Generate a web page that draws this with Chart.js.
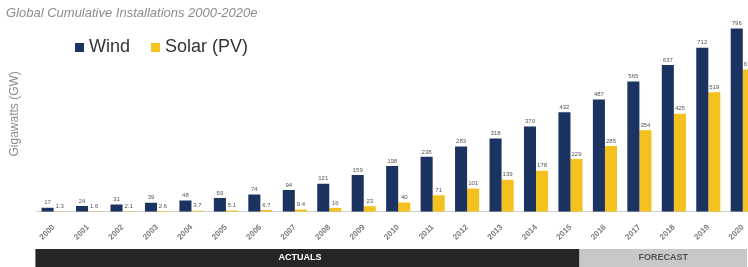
<!DOCTYPE html>
<html>
<head>
<meta charset="utf-8">
<script src="https://cdn.jsdelivr.net/npm/chart.js@4.4.1/dist/chart.umd.min.js"></script>
<style>
  html, body { margin: 0; padding: 0; background: #fff; overflow: hidden; }
  #wrap { position: absolute; left: 0; top: 0; width: 760px; height: 267px; }
  #title { position: absolute; left: 6px; top: 5px; font: italic 13px 'Liberation Sans', Arial, sans-serif; color: #8c8c8c; }
  #legend { position: absolute; left: 75px; top: 36px; font: 18px 'Liberation Sans', Arial, sans-serif; color: #333; }
  #legend span.sw { display: inline-block; width: 9px; height: 9px; margin-right: 5px; }
</style>
</head>
<body>
<div id="wrap"><canvas id="myChart" width="760" height="267"></canvas></div>
<div id="title">Global Cumulative Installations 2000-2020e</div>
<div id="legend">
  <span class="sw" style="background:#1b3360"></span>Wind
  <span class="sw" style="background:#f6c324; margin-left:16px"></span>Solar (PV)
</div>
<script>
const years = ['2000', '2001', '2002', '2003', '2004', '2005', '2006', '2007', '2008', '2009', '2010',
  '2011', '2012', '2013', '2014', '2015', '2016', '2017', '2018', '2019', '2020'];
const wind = [17, 24, 31, 39, 48, 59, 74, 94, 121, 159, 198, 238, 283, 318, 370, 432, 487, 565, 637, 712, 796];
const solar = [1.3, 1.6, 2.1, 2.6, 3.7, 5.1, 6.7, 9.4, 16, 23, 40, 71, 101, 139, 178, 229, 285, 354, 425, 519, 618];
const lastActual = 15; // 2015 is the last actual year

const ctx = document.getElementById('myChart');

// value labels above each bar
const barLabels = {
  id: 'barLabels',
  afterDatasetsDraw(chart) {
    const c = chart.ctx;
    c.save();
    c.font = '6px "Liberation Sans", Arial, sans-serif';
    c.fillStyle = '#555';
    c.textAlign = 'center';
    c.textBaseline = 'bottom';
    chart.data.datasets.forEach((ds, i) => {
      chart.getDatasetMeta(i).data.forEach((bar, j) => {
        c.fillText(String(ds.data[j]), bar.x, bar.y - 2);
      });
    });
    c.restore();
  },
};

// ACTUALS / FORECAST band under the axis
const periodBand = {
  id: 'periodBand',
  afterDraw(chart) {
    const c = chart.ctx;
    const x = chart.scales.x;
    const split = x.getPixelForValue(lastActual) + 9;
    const top = 249, h = 18;
    c.save();
    c.fillStyle = '#262626';
    c.fillRect(x.left - 1, top, split - x.left + 1, h);
    c.fillStyle = '#c8c8c8';
    c.fillRect(split, top, 747 - split, h);
    c.font = 'bold 9px "Liberation Sans", Arial, sans-serif';
    c.textAlign = 'center';
    c.textBaseline = 'middle';
    c.fillStyle = '#fff';
    c.fillText('ACTUALS', (x.left + split) / 2 - 8, top + h / 2);
    c.fillStyle = '#555';
    c.fillText('FORECAST', (split + 747) / 2, top + h / 2);
    c.restore();
  },
};

new Chart(ctx, {
  type: 'bar',
  data: {
    labels: years,
    datasets: [
      { label: 'Wind', data: wind, backgroundColor: '#1b3360' },
      { label: 'Solar (PV)', data: solar, backgroundColor: '#f5c11f' },
    ],
  },
  options: {
    responsive: false,
    animation: false,
    devicePixelRatio: 1,
    layout: { padding: { left: 7, top: 16, right: 0, bottom: 22 } },
    datasets: { bar: { categoryPercentage: 0.7, barPercentage: 1.0 } },
    plugins: {
      legend: { display: false },
      tooltip: { enabled: false },
    },
    scales: {
      x: {
        grid: { display: false },
        border: { display: true, color: '#cfcfcf' },
        ticks: {
          minRotation: 45,
          maxRotation: 45,
          color: '#7a7a7a',
          padding: 3,
          font: { family: 'Liberation Sans', size: 8, weight: 'bold' },
        },
      },
      y: {
        min: 0,
        max: 850,
        grid: { display: false },
        border: { display: false },
        ticks: { display: false },
        title: {
          display: true,
          text: 'Gigawatts (GW)',
          color: '#8c8c8c',
          padding: { top: 0, bottom: 7 },
          font: { family: 'Liberation Sans', size: 12 },
        },
      },
    },
  },
  plugins: [barLabels, periodBand],
});
</script>
</body>
</html>
